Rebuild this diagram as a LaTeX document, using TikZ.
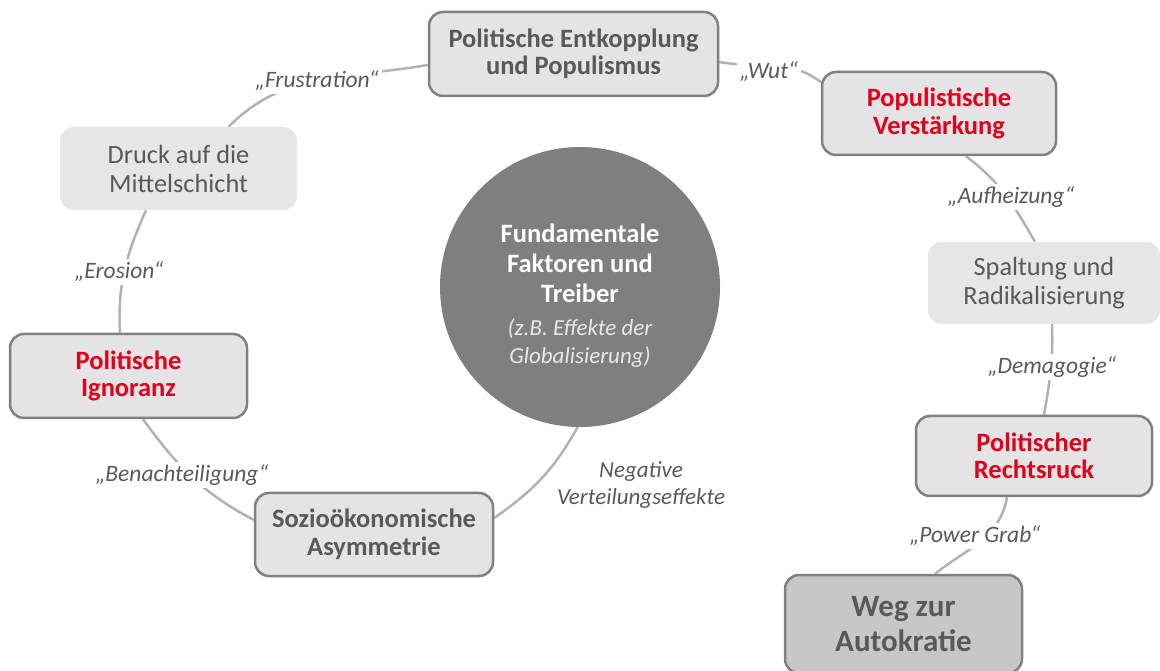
\documentclass[tikz,border=0pt]{standalone}
\usepackage{fontspec}
\setmainfont{Carlito}
\usetikzlibrary{calc,backgrounds}
\definecolor{txt}{RGB}{89,89,89}
\definecolor{redtxt}{RGB}{226,0,26}
\definecolor{boxfill}{RGB}{228,227,229}
\definecolor{plainfill}{RGB}{230,230,230}
\definecolor{autfill}{RGB}{200,198,200}
\definecolor{bord}{RGB}{128,128,128}
\definecolor{conncol}{RGB}{178,178,178}
\definecolor{circfill}{RGB}{127,127,127}
\definecolor{circtxt}{RGB}{232,232,232}
\tikzset{
  box/.style={draw=bord, line width=2.5pt, fill=boxfill, rounded corners=14pt, align=center,
    text=txt, font=\fontsize{26.5}{27.5}\selectfont\bfseries, inner sep=0pt},
  plainbox/.style={fill=plainfill, rounded corners=14pt, align=center, text=txt,
    font=\fontsize{26.3}{29}\selectfont, inner sep=0pt},
  lbl/.style={fill=white, text=txt, font=\fontsize{23.5}{27}\selectfont\itshape, inner sep=3pt, align=center},
  connector/.style={draw=conncol, line width=2.5pt},
}
\begin{document}
\begin{tikzpicture}[x=1pt,y=1pt]
\useasboundingbox (0,0) rectangle (1160,670);
% boxes
\node[box, minimum width=289pt, minimum height=84pt] (ent) at (573.5,616) {Politische Entkopplung\\und Populismus};
\node[box, text=redtxt, minimum width=234pt, minimum height=83pt] (pop) at (939,556.5) {Populistische\\Verstärkung};
\node[plainbox, minimum width=232pt, minimum height=82pt] (spa) at (1044,387) {Spaltung und\\Radikalisierung};
\node[box, text=redtxt, minimum width=236pt, minimum height=80pt] (rec) at (1034,214) {Politischer\\Rechtsruck};
\node[box, fill=autfill, font=\fontsize{31}{35}\selectfont\bfseries, minimum width=237pt, minimum height=98pt] (aut) at (903.5,46) {Weg zur\\Autokratie};
\node[box, minimum width=238pt, minimum height=83pt] (soz) at (374,135.5) {Sozioökonomische\\Asymmetrie};
\node[box, text=redtxt, minimum width=237pt, minimum height=84pt] (ign) at (128.5,294) {Politische\\Ignoranz};
\node[plainbox, minimum width=237pt, minimum height=83pt] (dru) at (178.5,501.5) {Druck auf die\\Mittelschicht};
% central circle
\node[circle, fill=circfill, minimum size=280pt, inner sep=0pt] (circ) at (580,383) {};
\node[text=white, align=center, font=\fontsize{26.5}{30}\selectfont\bfseries] (ct1) at (580,407) {Fundamentale\\Faktoren und\\Treiber};
\node[text=circtxt, align=center, font=\fontsize{23}{28}\selectfont\itshape] (ct2) at (580,327) {(z.B. Effekte der\\Globalisierung)};
% connectors
\begin{scope}[on background layer]
\draw[connector] ([yshift=-11pt]ent.west) to[out=190,in=45] ([xshift=50pt]dru.north);
\draw[connector] ([xshift=-32.5pt]dru.south) to[out=246,in=93] ([xshift=-8.5pt]ign.north);
\draw[connector] ([xshift=14.5pt]ign.south) to[out=306,in=152] ([yshift=14.5pt]soz.west);
\draw[connector] ([yshift=16.5pt]soz.east) to[out=35,in=241] (circ.269);
\draw[connector] ([yshift=-8pt]ent.east) to[out=-10,in=143] ([yshift=31.5pt]pop.west);
\draw[connector] ([xshift=27pt]pop.south) to[out=-37,in=120] ([xshift=-9pt]spa.north);
\draw[connector] ([xshift=8pt]spa.south) to[out=-88,in=80] ([xshift=10pt]rec.north);
\draw[connector] ([xshift=-27pt]rec.south) to[out=-100,in=38] ([xshift=31.5pt]aut.north);
\end{scope}
% labels
\node[lbl] (fru) at (317,589) {„Frustration“};
\node[lbl] (wut) at (769,598) {„Wut“};
\node[lbl] (ero) at (119,398) {„Erosion“};
\node[lbl] (ben) at (182,195) {„Benachteiligung“};
\node[lbl] (auf) at (1011,473) {„Aufheizung“};
\node[lbl] (dem) at (1052,303) {„Demagogie“};
\node[lbl] (pow) at (975,134) {„Power Grab“};
\node[lbl, fill=none, font=\fontsize{23}{27}\selectfont\itshape] (neg) at (641,185) {Negative\\Verteilungseffekte};
\end{tikzpicture}
\end{document}
